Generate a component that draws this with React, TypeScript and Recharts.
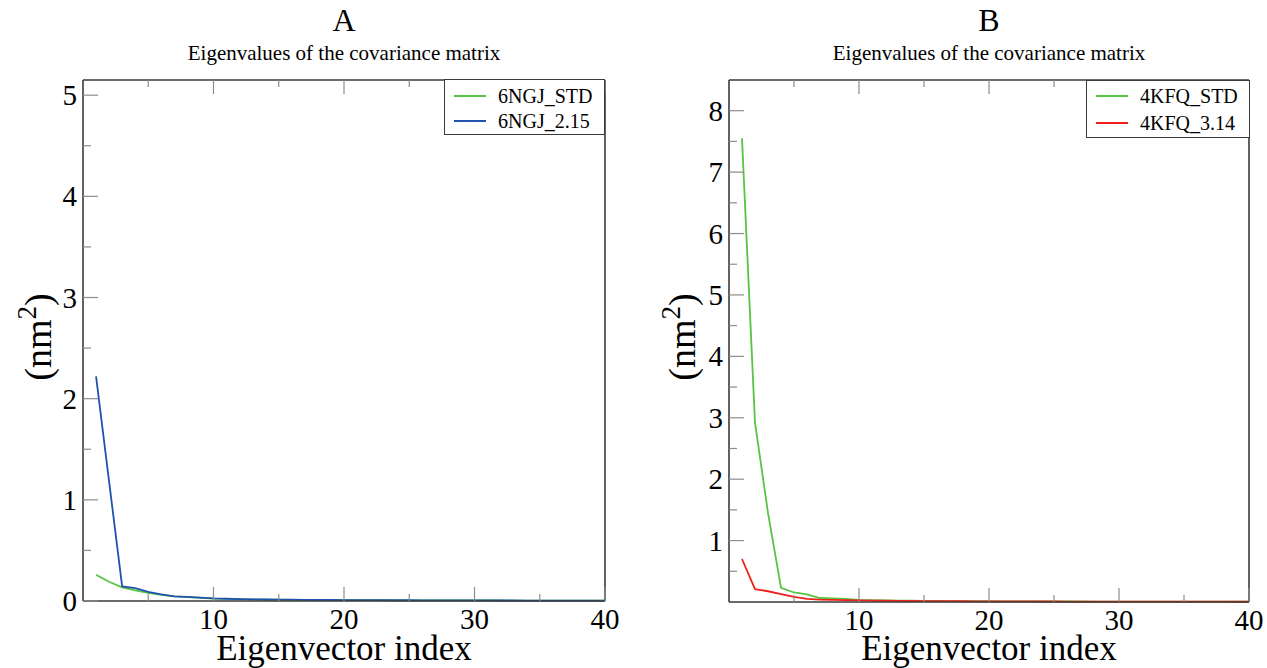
import React from 'react';
import { LineChart, Line, XAxis, YAxis } from 'recharts';

const FONT = '"Liberation Serif", "Times New Roman", serif';

// eigenvector index (x)
const eigIndex = [
  1, 2, 3, 4, 5, 6, 7, 8, 9, 10, 11, 12, 13, 14, 15, 16, 17, 18, 19, 20,
  21, 22, 23, 24, 25, 26, 27, 28, 29, 30, 31, 32, 33, 34, 35, 36, 37, 38, 39, 40,
];

// panel A
const ngjStd = [
  0.26, 0.19, 0.135, 0.105, 0.08, 0.06, 0.045, 0.038, 0.03, 0.024,
  0.021, 0.018, 0.016, 0.014, 0.013, 0.012, 0.011, 0.01, 0.0095, 0.009,
  0.0085, 0.008, 0.0075, 0.007, 0.0068, 0.0065, 0.006, 0.0058, 0.0055, 0.0052,
  0.005, 0.0048, 0.0046, 0.0044, 0.0042, 0.004, 0.0038, 0.0036, 0.0035, 0.0034,
];
const ngj215 = [
  2.22, 1.18, 0.145, 0.128, 0.09, 0.065, 0.045, 0.04, 0.033, 0.025,
  0.022, 0.019, 0.017, 0.015, 0.014, 0.013, 0.012, 0.011, 0.01, 0.0095,
  0.009, 0.0085, 0.008, 0.0076, 0.0072, 0.0068, 0.0064, 0.006, 0.0057, 0.0054,
  0.0052, 0.005, 0.0048, 0.0046, 0.0044, 0.0042, 0.004, 0.0038, 0.0037, 0.0036,
];

// panel B
const kfqStd = [
  7.55, 2.92, 1.45, 0.23, 0.155, 0.125, 0.065, 0.058, 0.05, 0.035,
  0.03, 0.026, 0.022, 0.02, 0.018, 0.016, 0.015, 0.014, 0.013, 0.012,
  0.011, 0.0105, 0.01, 0.0095, 0.009, 0.0085, 0.008, 0.0076, 0.0072, 0.0068,
  0.0065, 0.0062, 0.006, 0.0058, 0.0056, 0.0054, 0.0052, 0.005, 0.0048, 0.0046,
];
const kfq314 = [
  0.7, 0.21, 0.175, 0.13, 0.085, 0.05, 0.04, 0.035, 0.03, 0.025,
  0.022, 0.02, 0.018, 0.016, 0.015, 0.014, 0.013, 0.012, 0.011, 0.0105,
  0.01, 0.0095, 0.009, 0.0085, 0.008, 0.0076, 0.0072, 0.0068, 0.0065, 0.0062,
  0.006, 0.0058, 0.0056, 0.0054, 0.0052, 0.005, 0.0048, 0.0046, 0.0044, 0.0042,
];

const xTicks = [5, 10, 15, 20, 25, 30, 35, 40];
const xLabels = [10, 20, 30, 40];
const yTicksA = [0, 0.5, 1, 1.5, 2, 2.5, 3, 3.5, 4, 4.5, 5];
const yLabelsA = [0, 1, 2, 3, 4, 5];
const yTicksB = [0.5, 1, 1.5, 2, 2.5, 3, 3.5, 4, 4.5, 5, 5.5, 6, 6.5, 7, 7.5, 8];
const yLabelsB = [1, 2, 3, 4, 5, 6, 7, 8];

const GREEN = '#57c443';
const BLUE = '#2152b0';
const RED = '#f2201c';
const TICK = '#8c8c8c';
const FRAME = '#3a3a3a';

type Series = { key: string; name: string; color: string; values: number[] };

// margins are 1px short of the plot box: each axis takes 1px
const panels = [
  {
    title: 'A',
    left: 0,
    width: 640,
    margin: { top: 79, right: 34, bottom: 66, left: 82 },
    yMax: 5.15,
    yTicks: yTicksA,
    yLabels: yLabelsA,
    series: [
      { key: 'std', name: '6NGJ_STD', color: GREEN, values: ngjStd },
      { key: 'mut', name: '6NGJ_2.15', color: BLUE, values: ngj215 },
    ] as Series[],
    legend: { left: 444, top: 79, width: 161, height: 56, rows: [16, 41] },
    yLabelX: 38,
  },
  {
    title: 'B',
    left: 640,
    width: 627,
    margin: { top: 79, right: 17, bottom: 65, left: 88 },
    yMax: 8.5,
    yTicks: yTicksB,
    yLabels: yLabelsB,
    series: [
      { key: 'std', name: '4KFQ_STD', color: GREEN, values: kfqStd },
      { key: 'mut', name: '4KFQ_3.14', color: RED, values: kfq314 },
    ] as Series[],
    legend: { left: 1086, top: 80, width: 164, height: 58, rows: [15, 42] },
    yLabelX: 682,
  },
];

function BottomTick(props: any) {
  const { x, y, payload } = props;
  const v = payload.value;
  const major = v % 10 === 0;
  return (
    <g>
      <line x1={x} y1={y} x2={x} y2={y - (major ? 14 : 7)} stroke={TICK} strokeWidth={1.2} />
      {xLabels.includes(v) && (
        <text x={x} y={y + 28} textAnchor="middle" fontFamily={FONT} fontSize={29} fill="#000">
          {v}
        </text>
      )}
    </g>
  );
}

function TopTick(props: any) {
  const { x, y, payload } = props;
  const major = payload.value % 10 === 0;
  return <line x1={x} y1={y} x2={x} y2={y + (major ? 14 : 7)} stroke={TICK} strokeWidth={1.2} />;
}

function LeftTick(props: any) {
  const { x, y, payload, labels } = props;
  const v = payload.value;
  const major = Number.isInteger(v);
  return (
    <g>
      <line x1={x} y1={y} x2={x + (major ? 15 : 8)} y2={y} stroke={TICK} strokeWidth={1.2} />
      {labels.includes(v) && (
        <text x={x - 6} y={y + 10} textAnchor="end" fontFamily={FONT} fontSize={29} fill="#000">
          {v}
        </text>
      )}
    </g>
  );
}

function RightTick(props: any) {
  const { x, y, payload } = props;
  const major = Number.isInteger(payload.value);
  return <line x1={x} y1={y} x2={x - (major ? 15 : 8)} y2={y} stroke={TICK} strokeWidth={1.2} />;
}

function Panel({ p }: { p: (typeof panels)[number] }) {
  const data = eigIndex.map((i, k) => {
    const row: Record<string, number> = { i };
    p.series.forEach((s) => (row[s.key] = s.values[k]));
    return row;
  });
  const plotLeft = p.left + p.margin.left + 1;
  const plotRight = p.left + p.width - p.margin.right - 1;
  const cx = (plotLeft + plotRight) / 2;
  const axisLine = { stroke: FRAME, strokeWidth: 1.6 };

  return (
    <>
      <div style={{ position: 'absolute', left: p.left, top: 0 }}>
        <LineChart width={p.width} height={668} data={data} margin={p.margin}>
          <XAxis
            xAxisId="bottom"
            dataKey="i"
            type="number"
            domain={[0, 40]}
            ticks={xTicks}
            interval={0}
            height={1}
            tickSize={0}
            tickMargin={0}
            axisLine={axisLine}
            tickLine={false}
            tick={(t: any) => <BottomTick {...t} />}
          />
          <XAxis
            xAxisId="top"
            orientation="top"
            dataKey="i"
            type="number"
            domain={[0, 40]}
            ticks={xTicks}
            interval={0}
            height={1}
            tickSize={0}
            tickMargin={0}
            axisLine={axisLine}
            tickLine={false}
            tick={(t: any) => <TopTick {...t} />}
          />
          <YAxis
            yAxisId="left"
            type="number"
            domain={[0, p.yMax]}
            ticks={p.yTicks}
            interval={0}
            width={1}
            tickSize={0}
            tickMargin={0}
            axisLine={axisLine}
            tickLine={false}
            tick={(t: any) => <LeftTick {...t} labels={p.yLabels} />}
          />
          <YAxis
            yAxisId="right"
            orientation="right"
            type="number"
            domain={[0, p.yMax]}
            ticks={p.yTicks}
            interval={0}
            width={1}
            tickSize={0}
            tickMargin={0}
            axisLine={axisLine}
            tickLine={false}
            tick={(t: any) => <RightTick {...t} />}
          />
          {p.series.map((s) => (
            <Line
              key={s.key}
              xAxisId="bottom"
              yAxisId="left"
              dataKey={s.key}
              name={s.name}
              stroke={s.color}
              strokeWidth={1.8}
              dot={false}
              type="linear"
              isAnimationActive={false}
            />
          ))}
        </LineChart>
      </div>

      <div
        style={{
          position: 'absolute',
          left: cx - 100,
          width: 200,
          top: 4,
          textAlign: 'center',
          fontFamily: FONT,
          fontSize: 32,
          lineHeight: '32px',
        }}
      >
        {p.title}
      </div>
      <div
        style={{
          position: 'absolute',
          left: cx - 250,
          width: 500,
          top: 43,
          textAlign: 'center',
          fontFamily: FONT,
          fontSize: 21,
          lineHeight: '21px',
        }}
      >
        Eigenvalues of the covariance matrix
      </div>
      <div
        style={{
          position: 'absolute',
          left: cx - 200,
          width: 400,
          top: 631,
          textAlign: 'center',
          fontFamily: FONT,
          fontSize: 35,
          lineHeight: '35px',
          whiteSpace: 'nowrap',
        }}
      >
        Eigenvector index
      </div>
      <div
        style={{
          position: 'absolute',
          left: p.yLabelX,
          top: 337,
          transform: 'translate(-50%, -50%) rotate(-90deg)',
          fontFamily: FONT,
          fontSize: 38,
          lineHeight: '38px',
          whiteSpace: 'nowrap',
        }}
      >
        (nm<sup style={{ fontSize: 27, verticalAlign: '0.55em', lineHeight: 0 }}>2</sup>)
      </div>

      <div
        style={{
          position: 'absolute',
          left: p.legend.left,
          top: p.legend.top,
          width: p.legend.width,
          height: p.legend.height,
          boxSizing: 'border-box',
          border: `1.5px solid ${FRAME}`,
          background: '#fff',
        }}
      >
        {p.series.map((s, k) => (
          <div
            key={s.key}
            style={{
              position: 'absolute',
              left: 0,
              top: p.legend.rows[k] - 12,
              height: 24,
              width: '100%',
            }}
          >
            <div
              style={{
                position: 'absolute',
                left: 9,
                top: 11,
                width: 32,
                height: 2,
                background: s.color,
              }}
            />
            <div
              style={{
                position: 'absolute',
                left: 53,
                top: 0,
                fontFamily: FONT,
                fontSize: 20,
                lineHeight: '24px',
                whiteSpace: 'nowrap',
              }}
            >
              {s.name}
            </div>
          </div>
        ))}
      </div>
    </>
  );
}

export default function App() {
  return (
    <div
      style={{
        position: 'absolute',
        left: 0,
        top: 0,
        width: 1267,
        height: 668,
        background: '#fff',
        overflow: 'hidden',
      }}
    >
      {panels.map((p) => (
        <Panel key={p.title} p={p} />
      ))}
    </div>
  );
}
